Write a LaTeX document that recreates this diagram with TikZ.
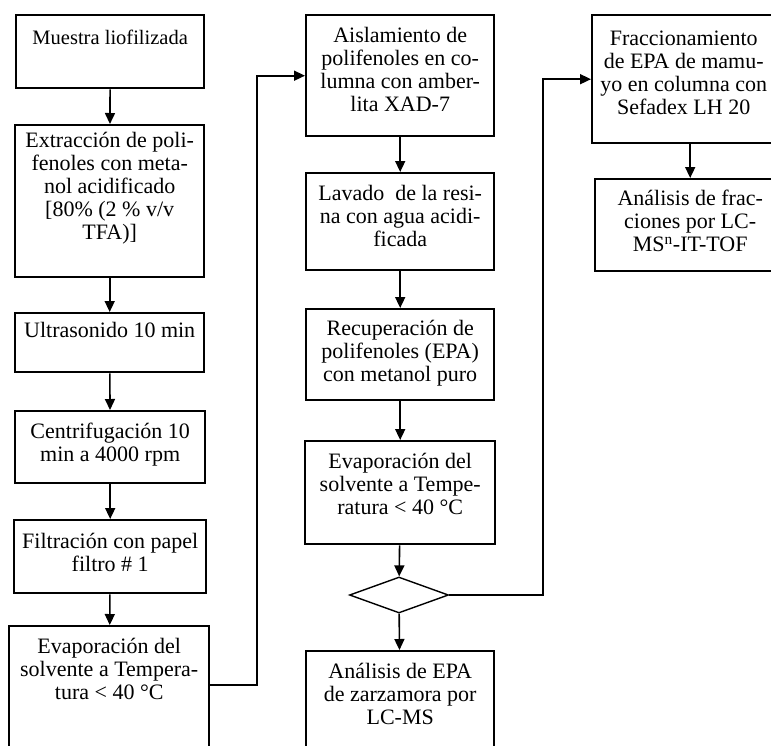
\documentclass[tikz,border=0pt]{standalone}
\usepackage{fontspec}
\setmainfont{Liberation Serif}
\usetikzlibrary{arrows.meta,shapes.geometric}
\tikzstyle{paso}=[draw, line width=2.4pt, inner sep=0pt, anchor=north west, font={\fontsize{22}{23}\selectfont}]
\tikzstyle{rombo}=[draw, diamond, aspect=2.75, minimum width=99pt, minimum height=36pt, inner sep=0pt, line width=1.4pt]
\tikzstyle{flecha}=[line width=1.6pt, -{Triangle[length=11pt,width=10pt]}]
% [espacio arriba]{nombre}{x,y}{ancho}{alto}{texto}
\newcommand{\paso}[6][11.5pt]{\node[paso] (#2) at (#3) {\parbox[c][#5pt][t]{#4pt}{\centering\vspace{#1}\strut #6}};}

\begin{document}
\begin{tikzpicture}[x=1pt, y=-1pt]
\useasboundingbox (0,0) rectangle (771,745);
\clip (0,0) rectangle (771,745);
% columna izquierda
\paso[13.5pt]{muestra}{15,14}{188}{73}{{\fontsize{20.5}{22}\selectfont Muestra liofilizada}}
\paso[6.5pt]{extraccion}{14,124}{189}{152}{Extracción de poli-\\fenoles con meta-\\nol acidificado\\{[}80\% (2 \% v/v\\TFA)]}
\paso[8.5pt]{ultrasonido}{14,312}{189}{59}{Ultrasonido 10 min}
\paso{centrifugacion}{14,410}{190}{72}{Centrifugación 10\\min a 4000 rpm}
\paso[12.5pt]{filtracion}{13,519}{192}{73}{Filtración con papel\\filtro \# 1}
\paso{evaporacion1}{8,625}{200}{160}{Evaporación del\\solvente a Tempera-\\tura < 40 °C}
% columna central
\paso{aislamiento}{305,14}{188}{121}{Aislamiento de\\polifenoles en co-\\lumna con amber-\\lita XAD-7}
\paso{lavado}{305,172}{188}{97}{Lavado \ de la resi-\\na con agua acidi-\\ficada}
\paso[10.5pt]{recuperacion}{305,308}{188}{91}{Recuperación de\\polifenoles (EPA)\\con metanol puro}
\paso{evaporacion2}{304,440}{190}{103}{Evaporación del\\solvente a Tempe-\\ratura < 40 °C}
\node[rombo] (decision) at (399,595) {};
\paso{zarzamora}{305,650}{188}{150}{Análisis de EPA\\de zarzamora por\\LC-MS}
% columna derecha
\paso[14.5pt]{fraccionamiento}{591,14}{183}{128}{Fraccionamiento\\de EPA de mamu-\\yo en columna con\\Sefadex LH 20}
\paso[10.5pt]{fracciones}{594,178}{190}{92}{Análisis de frac-\\ciones por LC-\\MS\textsuperscript{n}-IT-TOF}
\coordinate (codo1) at (257,400);
\coordinate (codo2) at (543,300);
\draw[flecha] (muestra) -- (extraccion);
\draw[flecha] (extraccion) -- (ultrasonido);
\draw[flecha] (ultrasonido) -- (centrifugacion);
\draw[flecha] (centrifugacion) -- (filtracion);
\draw[flecha] (filtracion) -- (evaporacion1);
\draw[flecha] ([yshift=-60pt]evaporacion1.north east) -| (codo1) |- (aislamiento.west);
\draw[flecha] (aislamiento) -- (lavado);
\draw[flecha] (lavado) -- (recuperacion);
\draw[flecha] (recuperacion) -- (evaporacion2);
\draw[flecha] (evaporacion2) -- (decision);
\draw[flecha] (decision) -- (zarzamora);
\draw[flecha] (decision.east) -| (codo2) |- (fraccionamiento.west);
\draw[flecha] (fraccionamiento.south -| fracciones.north) -- (fracciones.north);
\end{tikzpicture}
\end{document}
